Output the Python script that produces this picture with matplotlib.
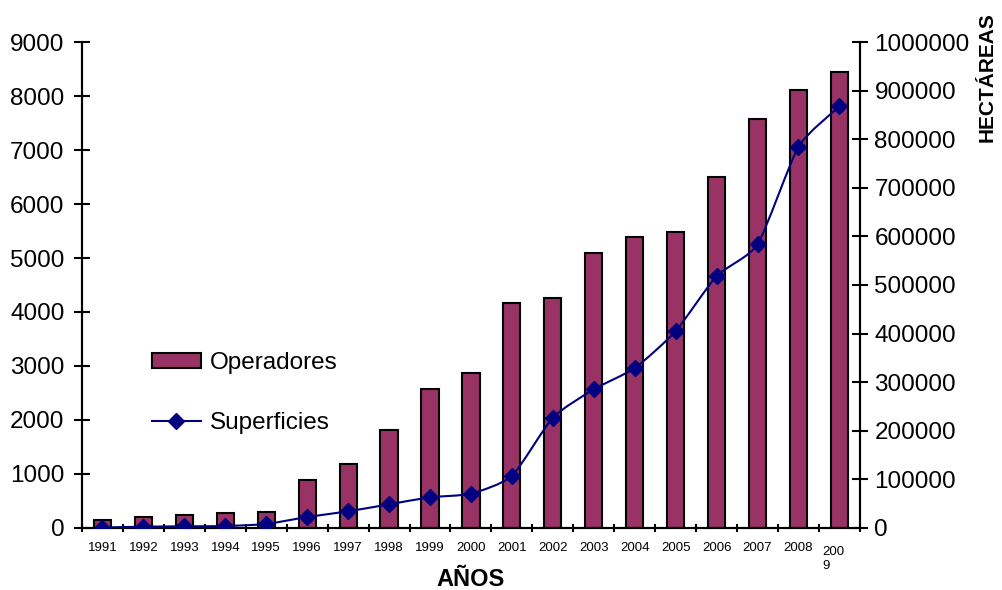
import matplotlib
matplotlib.use("Agg")
import matplotlib.pyplot as plt
from matplotlib.path import Path
from matplotlib.patches import PathPatch
from matplotlib.lines import Line2D
from matplotlib.ticker import FormatStrFormatter
from matplotlib.transforms import blended_transform_factory

plt.rcParams["font.family"] = ["Liberation Sans", "DejaVu Sans"]

years = [1991, 1992, 1993, 1994, 1995, 1996, 1997, 1998, 1999, 2000,
         2001, 2002, 2003, 2004, 2005, 2006, 2007, 2008, 2009]
operadores = [140, 200, 235, 270, 300, 890, 1190, 1810, 2570, 2865,
              4175, 4250, 5090, 5385, 5490, 6505, 7580, 8105, 8440]
superficies = [1000, 2700, 3500, 4000, 8200, 22600, 34300, 48700, 63100, 70600,
               107000, 227000, 285400, 329000, 405000, 518500, 583700, 784600, 867700]

BAR = "#993366"
LINE = "#000080"

fig = plt.figure(figsize=(10.02, 5.9), dpi=100)
ax = fig.add_axes([0.0818, 0.1051, 0.7764, 0.8237])
ax2 = ax.twinx()

x = list(range(len(years)))
ax.bar(x, operadores, width=0.42, color=BAR, edgecolor="black", linewidth=1.5,
       zorder=2)
ax.set_xlim(-0.5, len(years) - 0.5)
ax.set_ylim(0, 9000)
ax.set_yticks(range(0, 9001, 1000))

# lightly smoothed line through the points (cubic Bezier segments)
k = 10
verts = [(x[0], superficies[0])]
codes = [Path.MOVETO]
n = len(x)
for i in range(n - 1):
    p0 = (x[max(i - 1, 0)], superficies[max(i - 1, 0)])
    p1 = (x[i], superficies[i])
    p2 = (x[i + 1], superficies[i + 1])
    p3 = (x[min(i + 2, n - 1)], superficies[min(i + 2, n - 1)])
    c1 = (p1[0] + (p2[0] - p0[0]) / k, p1[1] + (p2[1] - p0[1]) / k)
    c2 = (p2[0] - (p3[0] - p1[0]) / k, p2[1] - (p3[1] - p1[1]) / k)
    verts += [c1, c2, p2]
    codes += [Path.CURVE4] * 3
ax2.add_patch(PathPatch(Path(verts, codes), facecolor="none", edgecolor=LINE,
                        linewidth=1.5, zorder=3))
ax2.plot(x, superficies, linestyle="none", marker="D", markersize=8,
         color=LINE, zorder=4)
ax2.set_ylim(0, 1000000)
ax2.set_yticks(range(0, 1000001, 100000))
ax2.yaxis.set_major_formatter(FormatStrFormatter("%d"))

# x ticks at category boundaries, labels at category centres
ax.set_xticks([i - 0.5 for i in range(len(years) + 1)])
ax.set_xticklabels([])
ax.set_xticks(x, minor=True)
ax.set_xticklabels([str(y) for y in years[:-1]] + [""], minor=True,
                   fontsize=9.5)
ax.tick_params(axis="x", which="minor", length=0, pad=10)
ax.tick_params(axis="x", which="major", direction="inout", length=6,
               width=1.5)
last = str(years[-1])
tr = blended_transform_factory(ax.transData, fig.transFigure)
ax.text(x[-1] - 0.42, 1 - 546 / 590, last[:3] + "\n" + last[3:], transform=tr,
        fontsize=9.5, ha="left", va="top", linespacing=1.2)

for a in (ax, ax2):
    a.spines["top"].set_visible(False)
    for s in ("left", "right", "bottom"):
        a.spines[s].set_linewidth(1.5)
ax.tick_params(axis="y", direction="inout", length=11, width=1.5,
               labelsize=17.5, pad=7)
ax2.tick_params(axis="y", direction="inout", length=11, width=1.5,
                labelsize=17.5, pad=5)

handles = [plt.Rectangle((0, 0), 1, 1, facecolor=BAR, edgecolor="black",
                         linewidth=1.5),
           Line2D([], [], color=LINE, linewidth=1.5, marker="D",
                  markersize=8)]
ax.legend(handles, ["Operadores", "Superficies"], loc="upper left",
          bbox_to_anchor=(152 / 1002, 1 - 352 / 590),
          bbox_transform=fig.transFigure,
          frameon=False, fontsize=17.5, handlelength=2.0, handleheight=0.55,
          labelspacing=1.55, handletextpad=0.4, borderaxespad=0, borderpad=0)

fig.text(471 / 1002, 1 - 580 / 590, "AÑOS", fontsize=17, fontweight="bold",
         ha="center", va="center")
fig.text(987 / 1002, 1 - 77 / 590, "HECTÁREAS", fontsize=15, fontweight="bold",
         rotation=90, ha="center", va="center")

fig.savefig("out.png", dpi=100)
